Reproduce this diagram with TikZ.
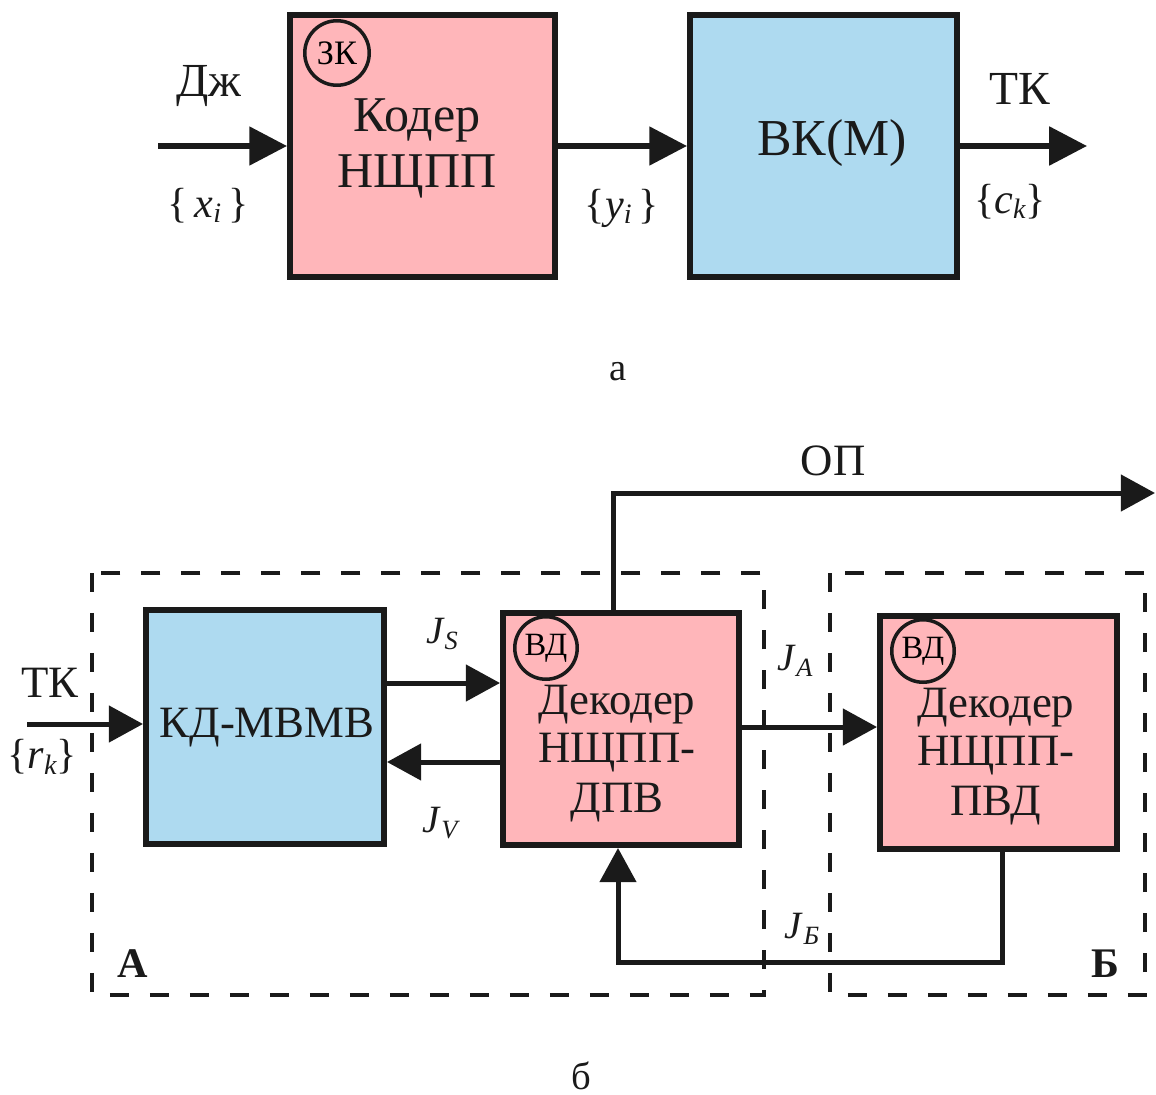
\documentclass[tikz,border=0pt]{standalone}
\usepackage{fontspec}
\setmainfont{Liberation Serif}
\usetikzlibrary{arrows.meta}
\definecolor{pinkbox}{HTML}{FFB6BA}
\definecolor{bluebox}{HTML}{AEDAF0}
\definecolor{ink}{HTML}{1A1A1A}
\newcommand{\lsub}[2][16]{\raisebox{-0.12cm}{\fontsize{#1}{#1}\selectfont\itshape #2}}
\tikzset{
  box/.style={draw=ink, line width=0.12cm, inner sep=0pt},
  pinkblock/.style={box, fill=pinkbox},
  blueblock/.style={box, fill=bluebox},
  tag/.style={circle, draw=ink, line width=0.07cm, inner sep=0pt, minimum size=#1, font=\fontsize{19.5}{20}\selectfont},
  toptxt/.style={anchor=base, inner sep=0pt, text=ink, font=\fontsize{28.5}{30}\selectfont},
  sidetxt/.style={anchor=base, inner sep=0pt, text=ink, font=\fontsize{27}{30}\selectfont},
  bottxt/.style={anchor=base, inner sep=0pt, text=ink, font=\fontsize{25.5}{28}\selectfont},
  mathlbl/.style={anchor=base, inner sep=0pt, text=ink, font=\fontsize{24}{26}\selectfont},
  jlbl/.style={anchor=base, inner sep=0pt, text=ink, font=\fontsize{22}{24}\selectfont},
  capt/.style={anchor=base, inner sep=0pt, text=ink, font=\fontsize{22}{24}\selectfont},
  regionlbl/.style={anchor=base, inner sep=0pt, text=ink, font=\fontsize{24}{26}\selectfont\bfseries},
  topflow/.style={draw=ink, line width=0.12cm, -{Triangle[length=21.5pt,width=21.5pt]}},
  flow/.style={draw=ink, line width=0.1cm, -{Triangle[length=19.5pt,width=20.5pt]}},
  region/.style={draw=ink, line width=0.07cm, dash pattern=on 0.38cm off 0.42cm},
}
\begin{document}
\begin{tikzpicture}[x=0.02cm, y=-0.02cm]
\useasboundingbox (0,0) rectangle (1156,1095);

% ---------- part a ----------
\node[pinkblock, minimum width=5.30cm, minimum height=5.24cm] (coder) at (422.5,146) {};
\node[blueblock, minimum width=5.34cm, minimum height=5.24cm] (vk) at (823.5,146) {};
\node[tag=1.29cm] (zk) at (337,53) {ЗК};
\node[toptxt] (coder1) at (417,132) {Кодер};
\node[toptxt] (coder2) at (417,187) {НЩПП};
\node[toptxt, font=\fontsize{29.5}{31}\selectfont] (vktxt) at (832,155) {ВК(М)};

\coordinate (ain) at (158,146);
\coordinate (aout) at (1087,146);
\draw[topflow] (ain) -- (coder.west);
\draw[topflow] (coder.east) -- (vk.west);
\draw[topflow] (vk.east) -- (aout);

\node[sidetxt] (dzh) at (209,96) {Дж};
\node[mathlbl] (xi) at (208,217) {\{\,\textit{x}\lsub{i}\,\}};
\node[mathlbl] (yi) at (622,218) {\{\textit{y}\lsub{i}\,\}};
\node[sidetxt] (tk1) at (1020,105) {ТК};
\node[mathlbl] (ck) at (1010,213) {\{\textit{c}\lsub{k}\}};
\node[capt] (capa) at (618,380) {а};

% ---------- part b ----------
\draw[region] (92,573) rectangle (764,995);
\draw[region] (830,573) rectangle (1145,995);

\node[blueblock, minimum width=4.76cm, minimum height=4.68cm] (kd) at (265,727) {};
\node[pinkblock, minimum width=4.72cm, minimum height=4.64cm] (dpv) at (621,729) {};
\node[pinkblock, minimum width=4.74cm, minimum height=4.66cm] (pvd) at (998.5,732.5) {};

\node[tag=1.25cm, font=\fontsize{18.5}{19}\selectfont] (vd1) at (546,648) {ВД};
\node[tag=1.25cm, font=\fontsize{18.5}{19}\selectfont] (vd2) at (923,651) {ВД};

\node[bottxt] (kdtxt) at (267,737) {КД-МВМВ};
\node[bottxt] (dpv1) at (617,714) {Декодер};
\node[bottxt] (dpv2) at (617,762) {НЩПП-};
\node[bottxt] (dpv3) at (617,812) {ДПВ};
\node[bottxt] (pvd1) at (996,717) {Декодер};
\node[bottxt] (pvd2) at (996,765) {НЩПП-};
\node[bottxt] (pvd3) at (996,815) {ПВД};

\coordinate (bin) at (27,724);
\coordinate (js) at (0,683);
\coordinate (jv) at (0,762);
\coordinate (ja) at (0,727);
\coordinate (opc) at (613,493);
\coordinate (opend) at (1155,493);
\coordinate (jbr) at (1002,962);
\coordinate (jbl) at (618,962);

\draw[flow] (bin) -- (bin -| kd.west);
\draw[flow] (js -| kd.east) -- (js -| dpv.west);
\draw[flow] (jv -| dpv.west) -- (jv -| kd.east);
\draw[flow] (ja -| dpv.east) -- (ja -| pvd.west);
\draw[flow] (opc |- dpv.north) -- (opc) -- (opend);
\draw[flow] (jbr |- pvd.south) -- (jbr) -- (jbl) -- (jbl |- dpv.south);

\node[bottxt] (tk2) at (50,697) {ТК};
\node[mathlbl] (rk) at (42,768) {\{\textit{r}\lsub{k}\}};
\node[jlbl] (jslbl) at (442,643) {\textit{J}\lsub[15]{S}};
\node[jlbl] (jvlbl) at (440,832) {\textit{J}\lsub[15]{V}};
\node[jlbl] (jalbl) at (795,670) {\textit{J}\lsub[15]{A}};
\node[jlbl] (jblbl) at (802,938) {\textit{J}\lsub[15]{Б}};
\node[bottxt] (op) at (833,475) {ОП};
\node[regionlbl] (rega) at (133,977) {А};
\node[regionlbl] (regb) at (1105,977) {Б};
\node[capt] (capb) at (581,1089) {б};
\end{tikzpicture}
\end{document}
